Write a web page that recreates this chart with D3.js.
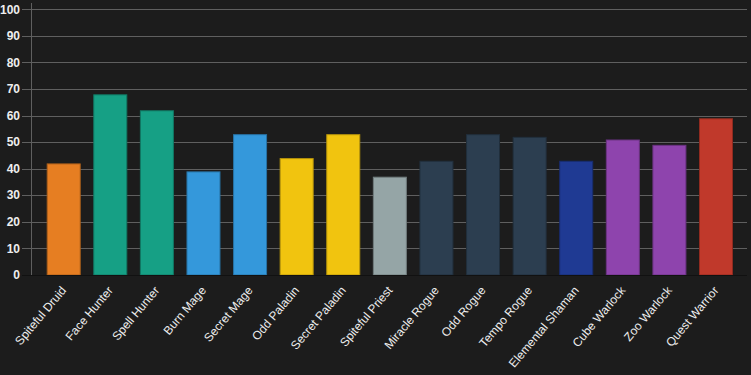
<!DOCTYPE html>
<html><head><meta charset="utf-8">
<script src="https://cdn.jsdelivr.net/npm/d3@7"></script>
<style>html,body{margin:0;padding:0;background:#1c1c1c;}svg{display:block;}</style>
</head><body>
<svg id="c" width="751" height="375"></svg>
<script>
const categories = ["Spiteful Druid","Face Hunter","Spell Hunter","Burn Mage","Secret Mage","Odd Paladin","Secret Paladin","Spiteful Priest","Miracle Rogue","Odd Rogue","Tempo Rogue","Elemental Shaman","Cube Warlock","Zoo Warlock","Quest Warrior"];
const values = [42,68,62,39,53,44,53,37,43,53,52,43,51,49,59];
const colors = ["#e67e22","#16a085","#16a085","#3498db","#3498db","#f1c40f","#f1c40f","#95a5a6","#2c3e50","#2c3e50","#2c3e50","#1f3a93","#8e44ad","#8e44ad","#c0392b"];
const yTicks = [0,10,20,30,40,50,60,70,80,90,100];

const svg = d3.select("#c");
const y = d3.scaleLinear().domain([0,100]).range([275,9.3]);
const x = d3.scaleBand().domain(categories).range([40.4,739.3]).paddingInner(0.27).paddingOuter(0.135);

// gridlines
svg.append("g").selectAll("line").data(yTicks.filter(d=>d>0)).join("line")
  .attr("x1",22).attr("x2",747)
  .attr("y1",d=>Math.round(y(d))+0.5).attr("y2",d=>Math.round(y(d))+0.5)
  .attr("stroke","#5f5f5f").attr("stroke-width",1);
// y axis line
svg.append("line").attr("x1",31.5).attr("x2",31.5).attr("y1",3).attr("y2",275)
  .attr("stroke","#5f5f5f");

// bars
svg.append("g").selectAll("rect").data(values).join("rect")
  .attr("x",(d,i)=>x(categories[i])+0.5)
  .attr("y",d=>y(d)+0.5)
  .attr("width",x.bandwidth()-1)
  .attr("height",d=>y(0)-y(d)-0.5)
  .attr("fill",(d,i)=>colors[i])
  .attr("stroke",(d,i)=>d3.color(colors[i]).darker(0.8))
  .attr("stroke-width",1);

// x axis line
svg.append("line").attr("x1",22).attr("x2",747).attr("y1",275.5).attr("y2",275.5)
  .attr("stroke","#111");

// y labels
svg.append("g").selectAll("text").data(yTicks).join("text")
  .attr("x",20).attr("y",d=>y(d)).attr("dy","0.35em")
  .attr("text-anchor","end")
  .attr("font-family","Liberation Sans, Arial, sans-serif")
  .attr("font-size",12).attr("font-weight","bold").attr("fill","#eeeeee")
  .text(d=>d);

// x labels
svg.append("g").selectAll("text").data(categories).join("text")
  .attr("transform",d=>`translate(${x(d)+x.bandwidth()/2},${288}) rotate(-50)`)
  .attr("text-anchor","end")
  .attr("dy","0.35em")
  .attr("font-family","Liberation Sans, Arial, sans-serif")
  .attr("font-size",12).attr("fill","#eeeeee")
  .text(d=>d);
</script>
</body></html>
